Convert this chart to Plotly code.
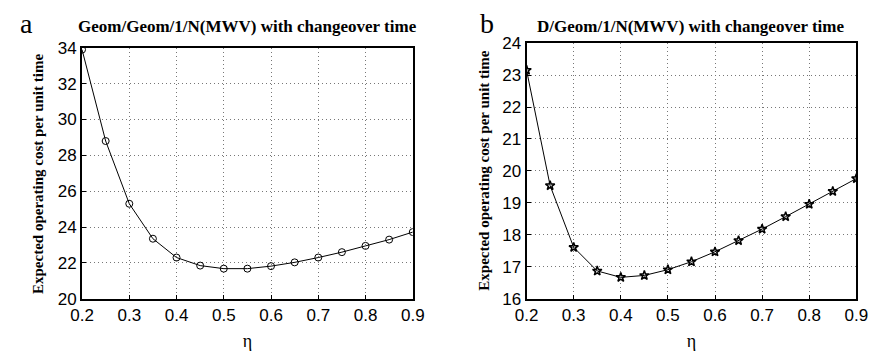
import plotly.graph_objects as go

eta = [0.2, 0.25, 0.3, 0.35, 0.4, 0.45, 0.5, 0.55, 0.6, 0.65, 0.7, 0.75, 0.8, 0.85, 0.9]
cost_geom = [33.9, 28.8, 25.3, 23.35, 22.3, 21.85, 21.68, 21.68, 21.82, 22.03, 22.3, 22.6, 22.95, 23.3, 23.72]
cost_d = [23.15, 19.54, 17.61, 16.87, 16.67, 16.73, 16.91, 17.16, 17.47, 17.82, 18.18, 18.57, 18.96, 19.36, 19.76]

title_a = "Geom/Geom/1/N(MWV) with changeover time"
title_b = "D/Geom/1/N(MWV) with changeover time"
ytitle = "Expected operating cost per unit time"
xtitle = "η"

serif = "Liberation Serif"
sans = "Liberation Sans"

fig = go.Figure()
fig.add_trace(go.Scatter(x=eta, y=cost_geom, mode="lines+markers",
                         line=dict(color="black", width=1),
                         marker=dict(symbol="circle-open", size=7, color="black", line=dict(width=1)),
                         xaxis="x", yaxis="y", showlegend=False))
fig.add_trace(go.Scatter(x=eta, y=cost_d, mode="lines+markers",
                         line=dict(color="black", width=1),
                         marker=dict(symbol="star-open", size=7, color="black", line=dict(width=1.5)),
                         xaxis="x2", yaxis="y2", showlegend=False))

common_x = dict(range=[0.2, 0.9], dtick=0.1, tick0=0.2, tickformat=".1f",
                showgrid=True, gridcolor="#777", griddash="1px,3px", gridwidth=1,
                showline=True, linecolor="black", linewidth=2, mirror=True,
                ticks="inside", ticklen=4, tickcolor="black", zeroline=False,
                tickfont=dict(family=sans, size=17, color="black"),
                title=dict(text=xtitle, font=dict(family=serif, size=18, color="black"), standoff=10))
common_y = dict(showgrid=True, gridcolor="#777", griddash="1px,3px", gridwidth=1,
                showline=True, linecolor="black", linewidth=2, mirror=True,
                ticks="inside", ticklen=4, tickcolor="black", zeroline=False,
                tickfont=dict(family=sans, size=17, color="black"))

fig.update_layout(
    width=880, height=358, margin=dict(l=0, r=0, t=0, b=0),
    paper_bgcolor="white", plot_bgcolor="white",
    xaxis=dict(domain=[72/880, 412/880], anchor="y", **common_x),
    yaxis=dict(domain=[1-306/358, 1-41/358], anchor="x", range=[20, 34], dtick=2, **common_y),
    xaxis2=dict(domain=[529/880, 868/880], anchor="y2", **common_x),
    yaxis2=dict(domain=[1-306/358, 1-36/358], anchor="x2", range=[16, 24], dtick=1, **common_y),
    annotations=[
        dict(text="<b>" + title_a + "</b>", x=242/880, y=1-18/358, xref="paper", yref="paper",
             showarrow=False, font=dict(family=serif, size=17, color="black"), xanchor="center", yanchor="middle"),
        dict(text="<b>" + title_b + "</b>", x=698/880, y=1-18/358, xref="paper", yref="paper",
             showarrow=False, font=dict(family=serif, size=17, color="black"), xanchor="center", yanchor="middle"),
        dict(text="a", x=15/880, y=1-15/358, xref="paper", yref="paper",
             showarrow=False, font=dict(family=serif, size=28, color="black"), xanchor="center", yanchor="middle"),
        dict(text="b", x=488/880, y=1-15/358, xref="paper", yref="paper",
             showarrow=False, font=dict(family=serif, size=28, color="black"), xanchor="center", yanchor="middle"),
        dict(text="<b>" + ytitle + "</b>", x=27/880, y=1-174/358, xref="paper", yref="paper", textangle=-90,
             showarrow=False, font=dict(family=serif, size=15, color="black"), xanchor="center", yanchor="middle"),
        dict(text="<b>" + ytitle + "</b>", x=485/880, y=1-171/358, xref="paper", yref="paper", textangle=-90,
             showarrow=False, font=dict(family=serif, size=15, color="black"), xanchor="center", yanchor="middle"),
    ],
)

fig.write_html("out.html")
